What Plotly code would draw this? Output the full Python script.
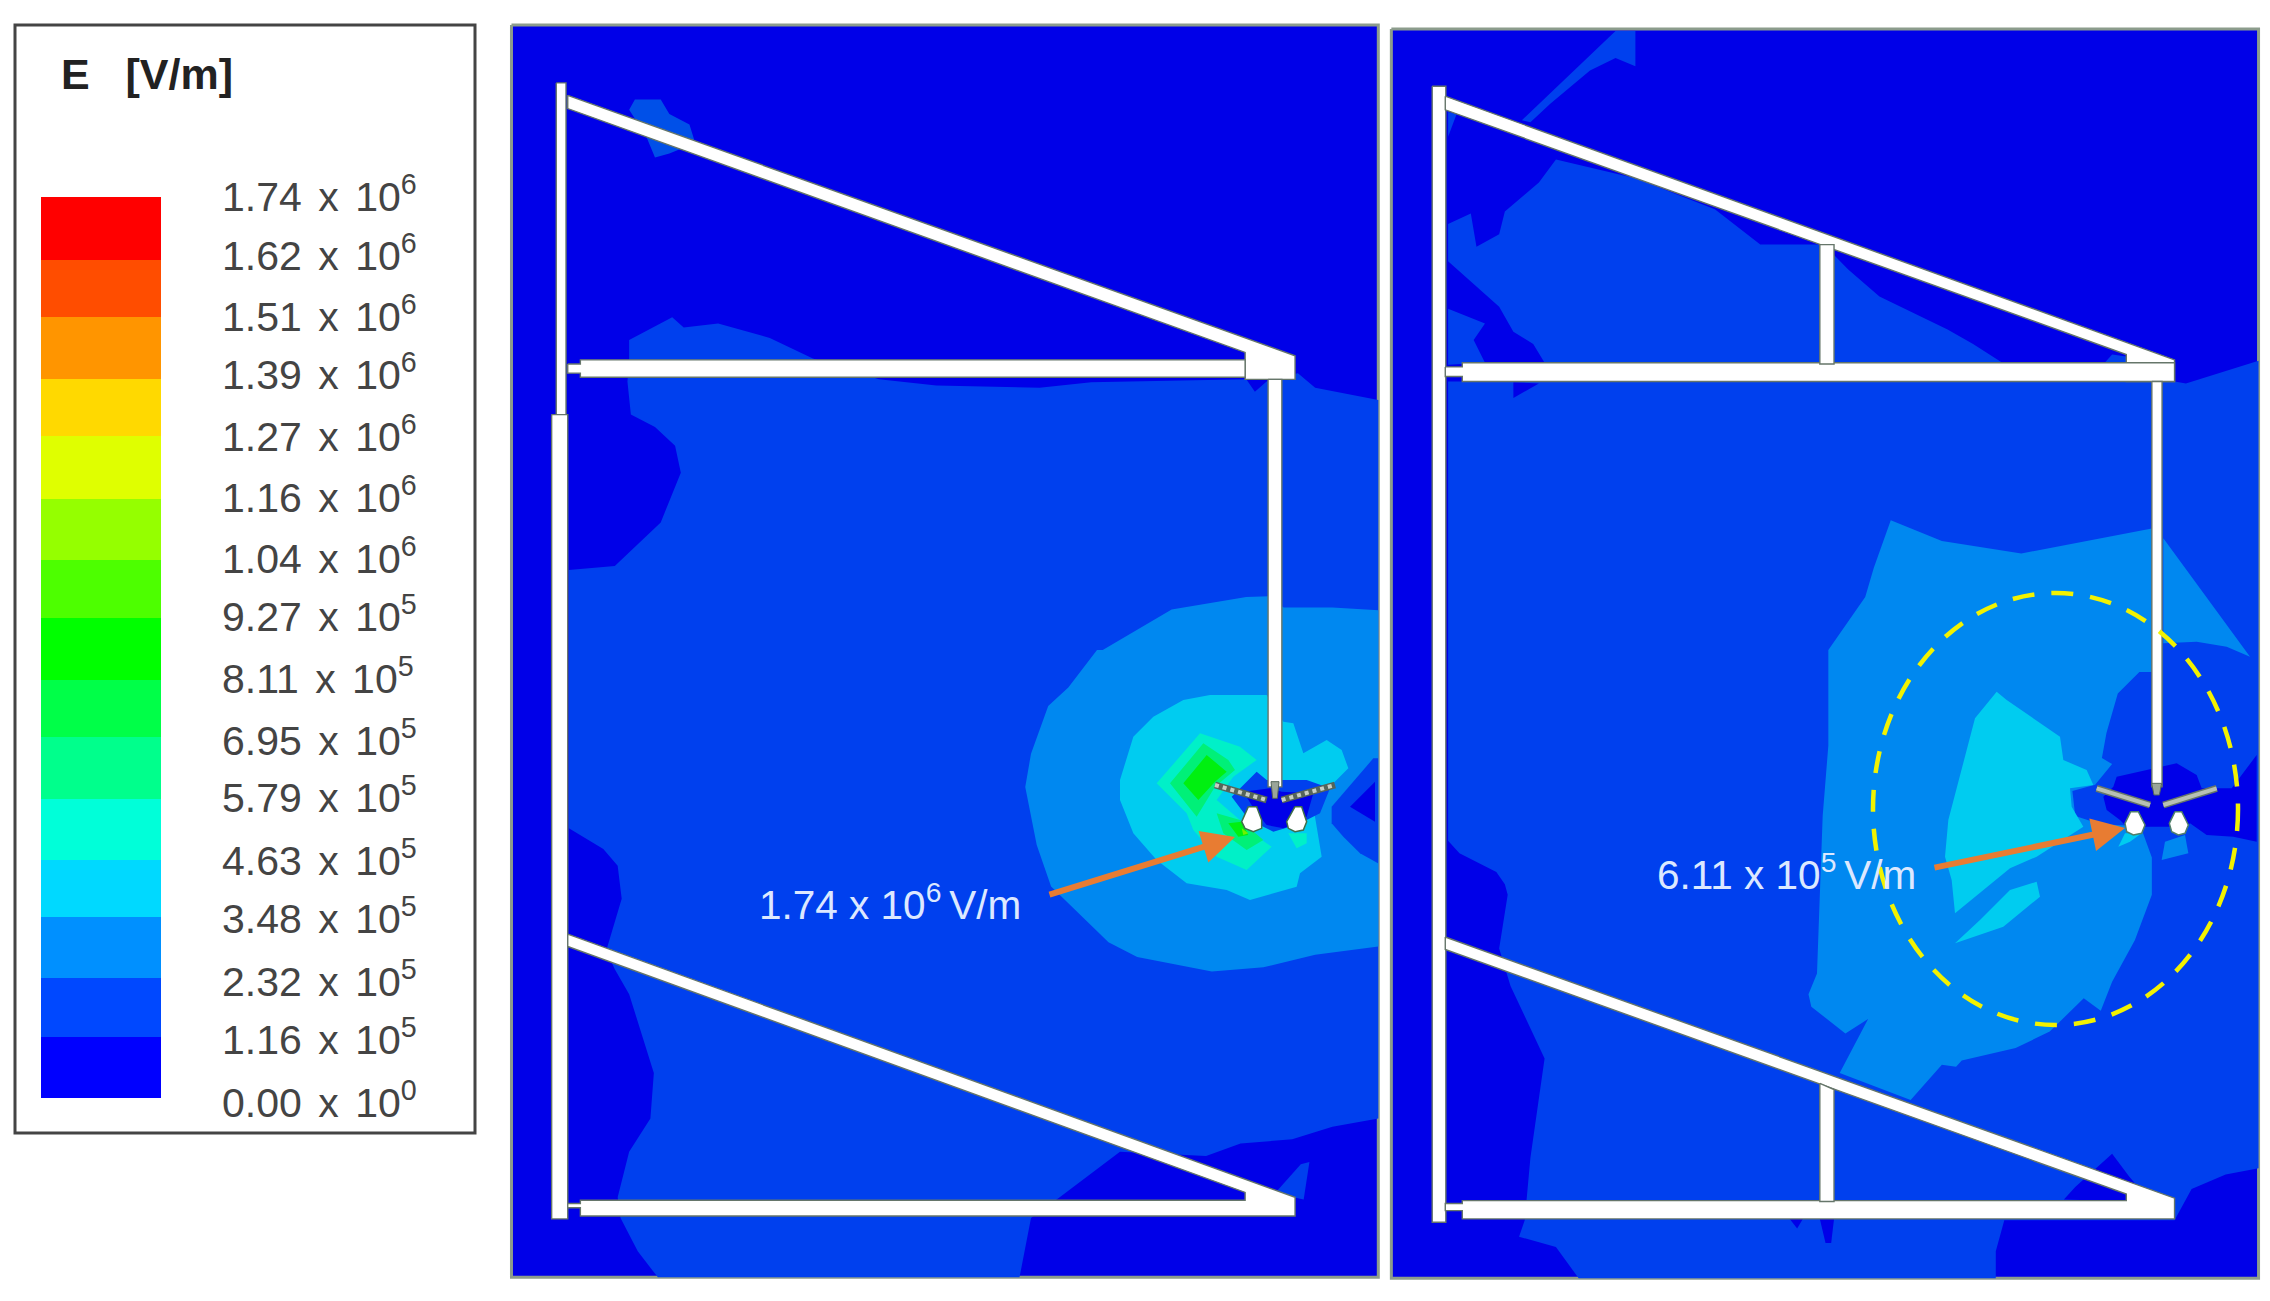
import plotly.graph_objects as go

# ---- legend data ----
legend_title = "E\u00a0\u00a0\u00a0[V/m]"
XS = "\u2009\u2009x\u2009\u2009"
legend_labels = ["1.74 x 10<sup>6</sup>", "1.62 x 10<sup>6</sup>", "1.51 x 10<sup>6</sup>", "1.39 x 10<sup>6</sup>",
                 "1.27 x 10<sup>6</sup>", "1.16 x 10<sup>6</sup>", "1.04 x 10<sup>6</sup>", "9.27 x 10<sup>5</sup>",
                 "8.11 x 10<sup>5</sup>", "6.95 x 10<sup>5</sup>", "5.79 x 10<sup>5</sup>", "4.63 x 10<sup>5</sup>",
                 "3.48 x 10<sup>5</sup>", "2.32 x 10<sup>5</sup>", "1.16 x 10<sup>5</sup>", "0.00 x 10<sup>0</sup>"]
legend_label_y = [198, 257, 318, 376, 438, 499, 560, 618, 680, 742, 799, 862, 920, 983, 1041, 1104]
band_edges = [197, 260, 317, 379, 436, 499, 560, 618, 680, 737, 799, 860, 917, 978, 1037, 1098]
band_colors = ["#FF0000", "#FF4D00", "#FF9500", "#FFD900", "#DFFF00", "#95FF00", "#4DFF00", "#00FF00",
               "#00FF48", "#00FF8C", "#00FFD9", "#00D9FF", "#0090FF", "#0048FF", "#0000FF"]

# ---- field level colours ----
L0, L1, L1B, L2, L3, L4, L5, L6, L7 = ("#0000E8", "#0040EE", "#0050E8", "#0088F0", "#00CCF0",
                                      "#00F0C8", "#00F078", "#00F010", "#70F000")
B = 1568  # second crop row offset

# ---- panel 1 contour regions ----
p1_frame = [(20, 60), (1530, 60), (1530, B + 1513), (20, B + 1513)]
p1_blob = [(225, 265), (235, 240), (280, 240), (295, 275), (330, 300), (340, 345), (295, 370), (270, 380), (255, 330)]
p1_l1 = [(225, 870), (225, 820), (300, 765), (320, 790), (380, 780), (470, 815), (545, 865), (660, 915), (760, 930),
         (940, 935), (1030, 922), (1300, 915), (1315, 945), (1340, 915), (1390, 900), (1420, 935), (1530, 965),
         (1530, B + 1130), (1450, B + 1150), (1380, B + 1180), (1290, B + 1190), (1230, B + 1220), (1080, B + 1210),
         (975, B + 1320), (925, B + 1370), (915, B + 1440), (905, B + 1513), (275, B + 1513), (240, B + 1450),
         (210, B + 1370), (205, B + 1320), (225, B + 1210), (262, B + 1130), (268, B + 1020), (225, B + 830),
         (200, B + 770), (185, B + 725), (212, B + 600), (205, B + 520), (180, B + 480), (120, B + 430),
         (120, 1375), (200, 1365), (280, 1260), (315, 1140), (305, 1075), (270, 1030), (228, 1000), (222, 920)]
p1_spike = [(1350, B + 1310), (1395, B + 1240), (1410, B + 1235), (1400, B + 1325)]
p1_l2 = [(1050, 1568), (1170, 1470), (1300, 1440), (1340, 1438), (1365, 1465), (1450, 1465), (1530, 1472),
         (1530, B + 715), (1420, B + 735), (1330, B + 765), (1240, B + 775), (1110, B + 740), (1060, B + 705),
         (960, B + 570), (935, B + 470), (915, B + 330), (925, B + 250), (955, B + 135), (990, B + 90), (1040, B)]
# zoomed-detail coordinates around the antenna
p1_l3 = [(60, 240), (100, 110), (160, 50), (250, 0), (330, -15), (500, -15), (550, 65), (580, 70), (610, 160),
         (680, 120), (725, 150), (745, 205), (700, 250), (640, 320), (650, 380), (665, 470), (600, 520), (590, 560),
         (450, 600), (380, 570), (260, 550), (170, 480), (100, 400), (60, 300)]
p1_edge_l1 = [(695, 320), (820, 175), (834, 175), (834, 490), (780, 460), (730, 410), (695, 370)]
p1_edge_l0 = [(750, 320), (825, 245), (825, 365)]
p1_l4a = [(170, 250), (300, 100), (420, 140), (470, 180), (400, 230), (350, 300), (420, 360), (450, 395), (515, 440),
          (440, 510), (350, 470), (280, 390), (260, 340)]
p1_l4b = [(565, 400), (620, 400), (620, 430), (590, 445)]
p1_l5a = [(210, 250), (310, 130), (385, 180), (405, 210), (345, 260), (290, 350)]
p1_l5b = [(350, 340), (420, 360), (490, 420), (440, 450), (370, 400)]
p1_l6a = [(250, 250), (320, 165), (380, 215), (345, 245), (295, 300)]
p1_l6b = [(385, 370), (425, 365), (445, 405), (415, 410)]
p1_l7 = [(425, 385), (445, 400), (430, 405)]
p1_core_l1 = [(395, 290), (470, 215), (500, 240), (550, 240), (620, 240), (690, 265), (660, 340), (620, 360),
              (570, 380), (520, 395), (490, 380), (440, 350)]
p1_core_l0 = [(430, 275), (510, 265), (545, 275), (640, 280), (620, 350), (590, 370), (550, 385), (500, 375), (470, 340)]

# ---- panel 2 contour regions ----
p2_frame = [(20, 70), (1548, 70), (1548, B + 1515), (20, B + 1515)]
p2_top = [(250, 290), (415, 75), (450, 75), (450, 160), (415, 140), (370, 170), (300, 250), (265, 295)]
p2_tiny = [(120, 270), (135, 275), (120, 330)]
p2_tri_left = [(310, 385), (280, 440), (220, 510), (210, 565), (170, 595), (160, 515), (120, 540), (120, 630),
               (210, 740), (235, 800), (270, 830), (290, 875), (775, 875), (775, 590), (670, 590), (590, 505), (450, 430)]
p2_tri_small = [(120, 745), (185, 780), (165, 820), (185, 875), (120, 880)]
p2_tri_right = [(800, 615), (825, 650), (880, 715), (1000, 795), (1045, 830), (1100, 878), (800, 878)]
p2_tri_block = [(1275, 878), (1290, 855), (1315, 860), (1315, 880)]
p2_main = [(120, 920), (1400, 920), (1420, 925), (1548, 870), (1548, B + 1250), (1490, B + 1265), (1430, B + 1300),
           (1400, B + 1375), (1100, B + 1375), (1085, B + 1450), (1085, B + 1515), (350, B + 1515), (310, B + 1440),
           (245, B + 1415), (255, B + 1375), (265, B + 1225), (290, B + 985), (230, B + 810), (210, B + 720),
           (225, B + 590), (220, B + 565), (205, B + 535), (140, B + 490), (120, B + 460)]
p2_dark_a = [(235, 922), (280, 925), (235, 960)]
p2_dark_b = [(1205, B + 1325), (1225, B + 1295), (1290, B + 1215), (1320, B + 1270), (1345, B + 1310), (1320, B + 1330)]
p2_dark_c = [(722, B + 1372), (745, B + 1372), (735, B + 1395)]
p2_dark_d = [(775, B + 1372), (800, B + 1372), (795, B + 1430), (785, B + 1430)]
p2_l2 = [(900, 1255), (990, 1305), (1130, 1335), (1360, 1275), (1360, B + 53), (1338, B + 53), (1300, B + 105),
         (1280, B + 200), (1272, B + 260), (1290, B + 275), (1260, B + 325), (1220, B + 340), (1225, B + 400),
         (1270, B + 420), (1340, B + 425), (1360, B + 500), (1360, B + 590), (1330, B + 700), (1290, B + 800),
         (1270, B + 870), (1240, B + 840), (1180, B + 920), (1120, B + 960), (1025, B + 990), (1015, B + 1005),
         (990, B + 1000), (935, B + 1085), (810, B + 1020), (860, B + 890), (820, B + 925), (760, B + 860),
         (755, B + 830), (770, B + 780), (775, B + 600), (780, B + 400), (790, B + 230), (790, B), (855, 1440), (870, 1370)]
p2_wedge = [(400, 115), (660, 470), (590, 440), (500, 425), (400, 430)]
p2_l3a = [(650, 95), (680, 120), (840, 230), (850, 300), (920, 330), (940, 375), (870, 385), (875, 440), (910, 500),
          (770, 590), (690, 625), (525, 760), (515, 660), (495, 590), (505, 480), (550, 310), (585, 175)]
p2_l3b = [(770, 665), (780, 710), (670, 800), (525, 850), (600, 780), (690, 690)]
p2_core_l0 = [(310, 230), (340, 200), (350, 170), (420, 155), (530, 130), (590, 165), (605, 205), (695, 205), (770, 105),
              (770, 365), (700, 350), (620, 345), (570, 310), (555, 320), (500, 320), (440, 320), (380, 320), (360, 300), (320, 270)]
p2_core_l1 = [(445, 325), (500, 325), (510, 350), (475, 400), (445, 350)]
p2_lobe_l2 = [(495, 365), (555, 345), (565, 400), (485, 420)]
p2_bit_l3 = [(355, 380), (375, 340), (425, 340), (390, 365)]

# ---- structure outlines ----
p1_rails = [
    [(98, 200), (115, 200), (115, 1000), (98, 1000)],
    [(90, 1000), (118, 1000), (118, B + 1372), (90, B + 1372)],
    [(118, 230), (1385, 858), (1385, 915), (1298, 915), (1298, 850), (118, 262)],
    [(118, 878), (140, 878), (140, 868), (1298, 868), (1298, 910), (140, 910), (140, 900), (118, 900)],
    [(1338, 915), (1362, 915), (1362, B + 330), (1338, B + 330)],
    [(118, B + 685), (1385, B + 1320), (1385, B + 1365), (140, B + 1365), (140, B + 1345), (118, B + 1345),
     (118, B + 1335), (140, B + 1335), (140, B + 1327), (1298, B + 1327), (1298, B + 1308), (118, B + 715)],
]
p2_rails = [
    [(92, 208), (116, 208), (116, B + 1380), (92, B + 1380)],
    [(115, 232), (1400, 868), (1400, 920), (1315, 920), (1315, 855), (115, 265)],
    [(115, 885), (145, 885), (145, 875), (1315, 875), (1400, 875), (1400, 920), (145, 920), (145, 908), (115, 908)],
    [(775, 590), (800, 590), (800, 878), (775, 878)],
    [(1360, 920), (1378, 920), (1378, B + 330), (1360, B + 330)],
    [(115, B + 692), (1400, B + 1322), (1400, B + 1372), (145, B + 1372), (145, B + 1352), (115, B + 1352),
     (115, B + 1335), (145, B + 1335), (145, B + 1328), (1315, B + 1328), (1315, B + 1312), (115, B + 722)],
    [(775, B + 1045), (800, B + 1060), (800, B + 1330), (775, B + 1330)],
]
p1_wings = [[(345, 255), (500, 300)], [(545, 300), (705, 255)]]
p1_stub = [(513, 245), (537, 245), (532, 295), (518, 295)]
p1_balls = [[(445, 320), (470, 320), (485, 360), (485, 385), (460, 395), (435, 385), (425, 365)],
            [(585, 320), (605, 320), (620, 365), (610, 390), (585, 395), (565, 385), (560, 365)]]
p2_wings = [[(290, 205), (450, 255)], [(490, 255), (650, 205)]]
p2_stub = [(455, 190), (485, 190), (478, 225), (462, 225)]
p2_balls = [[(392, 275), (415, 275), (435, 315), (425, 340), (400, 345), (380, 335), (375, 310)],
            [(525, 275), (545, 275), (565, 315), (555, 340), (535, 345), (515, 335), (508, 310)]]

# ---- annotation data ----
label_1, label_1_pos = "1.74 x 10<sup>6 </sup>V/m", (758, 902)
label_2, label_2_pos = "6.11 x 10<sup>5 </sup>V/m", (1656, 872)
arrow_1 = ((1048, 895), (1235, 837))
arrow_2 = ((1933, 868), (2125, 828))
ellipse = (1873, 593, 2238, 1025)
legend_box = (15, 25, 475, 1133)
ORANGE, YELLOW, EDGE, FRAME = "#E87C32", "#F2F200", "#66766A", "#8C9C8C"


def conv(ox, oy, sx, sy):
    return lambda pts: [(ox + x / sx, oy + y / sy) for x, y in pts]


u1, u2 = conv(500, 0, 1.742, 2.412), conv(1380, 0, 1.762, 2.412)
z6 = conv(1100, 700, 3, 3)
z7 = conv(2000, 720, 3, 3)
z8 = conv(2030, 500, 3, 3)
z9 = conv(1780, 660, 3, 3)

fig = go.Figure()


def poly(pts, fill, line=None, lw=0):
    xs = [p[0] for p in pts] + [pts[0][0]]
    ys = [p[1] for p in pts] + [pts[0][1]]
    fig.add_trace(go.Scatter(x=xs, y=ys, mode="lines", fill="toself", fillcolor=fill,
                             line=dict(color=line or fill, width=lw if line else 0),
                             hoverinfo="skip", showlegend=False))


def seg(pts, color, width, dash=None):
    fig.add_trace(go.Scatter(x=[p[0] for p in pts], y=[p[1] for p in pts], mode="lines",
                             line=dict(color=color, width=width, dash=dash),
                             hoverinfo="skip", showlegend=False))


# legend colour bar
for i, c in enumerate(band_colors):
    fig.add_trace(go.Bar(x=[101], y=[band_edges[i + 1] - band_edges[i]], base=[band_edges[i]], width=[120],
                         marker=dict(color=c, line=dict(width=0)), hoverinfo="skip", showlegend=False))

# panel 1 field
poly(u1(p1_frame), L0, FRAME, 3)
poly(u1(p1_blob), L1B)
poly(u1(p1_l1), L1)
poly(u1(p1_spike), L1)
poly(u1(p1_l2), L2)
for region, col in [(p1_l3, L3), (p1_edge_l1, L1), (p1_edge_l0, L0), (p1_l4a, L4), (p1_l4b, L4), (p1_l5a, L5),
                    (p1_l5b, L5), (p1_l6a, L6), (p1_l6b, L6), (p1_l7, L7), (p1_core_l1, L1), (p1_core_l0, L0)]:
    poly(z6(region), col)

# panel 2 field
poly(u2(p2_frame), L0, FRAME, 3)
for region in [p2_top, p2_tiny, p2_tri_left, p2_tri_small, p2_tri_right, p2_tri_block, p2_main]:
    poly(u2(region), L1)
for region in [p2_dark_a, p2_dark_b, p2_dark_c, p2_dark_d]:
    poly(u2(region), L0)
poly(u2(p2_l2), L2)
poly(z8(p2_wedge), L2)
poly(z9(p2_l3a), L3)
poly(z9(p2_l3b), L3)
poly(z7(p2_core_l0), L0)
poly(z7(p2_core_l1), L1)
poly(z7(p2_lobe_l2), L2)
poly(z7(p2_bit_l3), L3)

# structures
for r in p1_rails:
    poly(u1(r), "#FFFFFF", EDGE, 1.4)
for r in p2_rails:
    poly(u2(r), "#FFFFFF", EDGE, 1.4)
for w in p1_wings:
    seg(z6(w), "#55655A", 7)
    seg(z6(w), "#C8CEC4", 4, "4px,4px")
poly(z6(p1_stub), "#9AA598", "#55655A", 1)
for b in p1_balls:
    poly(z6(b), "#FFFFFF", "#3F6F4A", 1.5)
for w in p2_wings:
    seg(z7(w), "#66766A", 7)
    seg(z7(w), "#B8C0B4", 4)
poly(z7(p2_stub), "#9AA598", "#55655A", 1)
for b in p2_balls:
    poly(z7(b), "#FFFFFF", "#4F7F6A", 1.5)

annotations = []


def note(x, y, txt, size, color):
    annotations.append(dict(x=x, y=y, xref="x", yref="y", text=txt, showarrow=False, xanchor="left", yanchor="middle",
                            align="left", borderpad=0, font=dict(family="Liberation Sans", size=size, color=color)))


# legend labels and in-panel labels
for lab, y in zip(legend_labels, legend_label_y):
    note(221, y - 4, lab.replace(" x ", XS), 41, "#444444")
note(60, 74, "<b>" + legend_title + "</b>", 43, "#222222")
note(label_1_pos[0], label_1_pos[1], label_1, 40.5, "#DCE8FF")
note(label_2_pos[0], label_2_pos[1], label_2, 40.5, "#DCE8FF")

for (a, t) in (arrow_1, arrow_2):
    annotations.append(dict(x=t[0], y=t[1], ax=a[0], ay=a[1], xref="x", yref="y", axref="x", ayref="y", text="",
                            showarrow=True, arrowhead=2, arrowsize=1.1, arrowwidth=6, arrowcolor=ORANGE))

shapes = [
    dict(type="circle", xref="x", yref="y", x0=ellipse[0], y0=ellipse[1], x1=ellipse[2], y1=ellipse[3],
         line=dict(color=YELLOW, width=4.5, dash="22px,17px")),
    dict(type="rect", xref="x", yref="y", x0=legend_box[0], y0=legend_box[1], x1=legend_box[2], y1=legend_box[3],
         line=dict(color="#444444", width=3)),
]

fig.update_layout(
    width=2270, height=1301, margin=dict(l=0, r=0, t=0, b=0), paper_bgcolor="white", plot_bgcolor="white",
    barmode="overlay", showlegend=False, annotations=annotations, shapes=shapes,
    xaxis=dict(range=[0, 2270], visible=False, fixedrange=True),
    yaxis=dict(range=[1301, 0], visible=False, fixedrange=True),
)
fig.write_html("out.html", config={"displayModeBar": False},
               post_script="document.body.style.margin='0';document.body.style.overflow='hidden';")
